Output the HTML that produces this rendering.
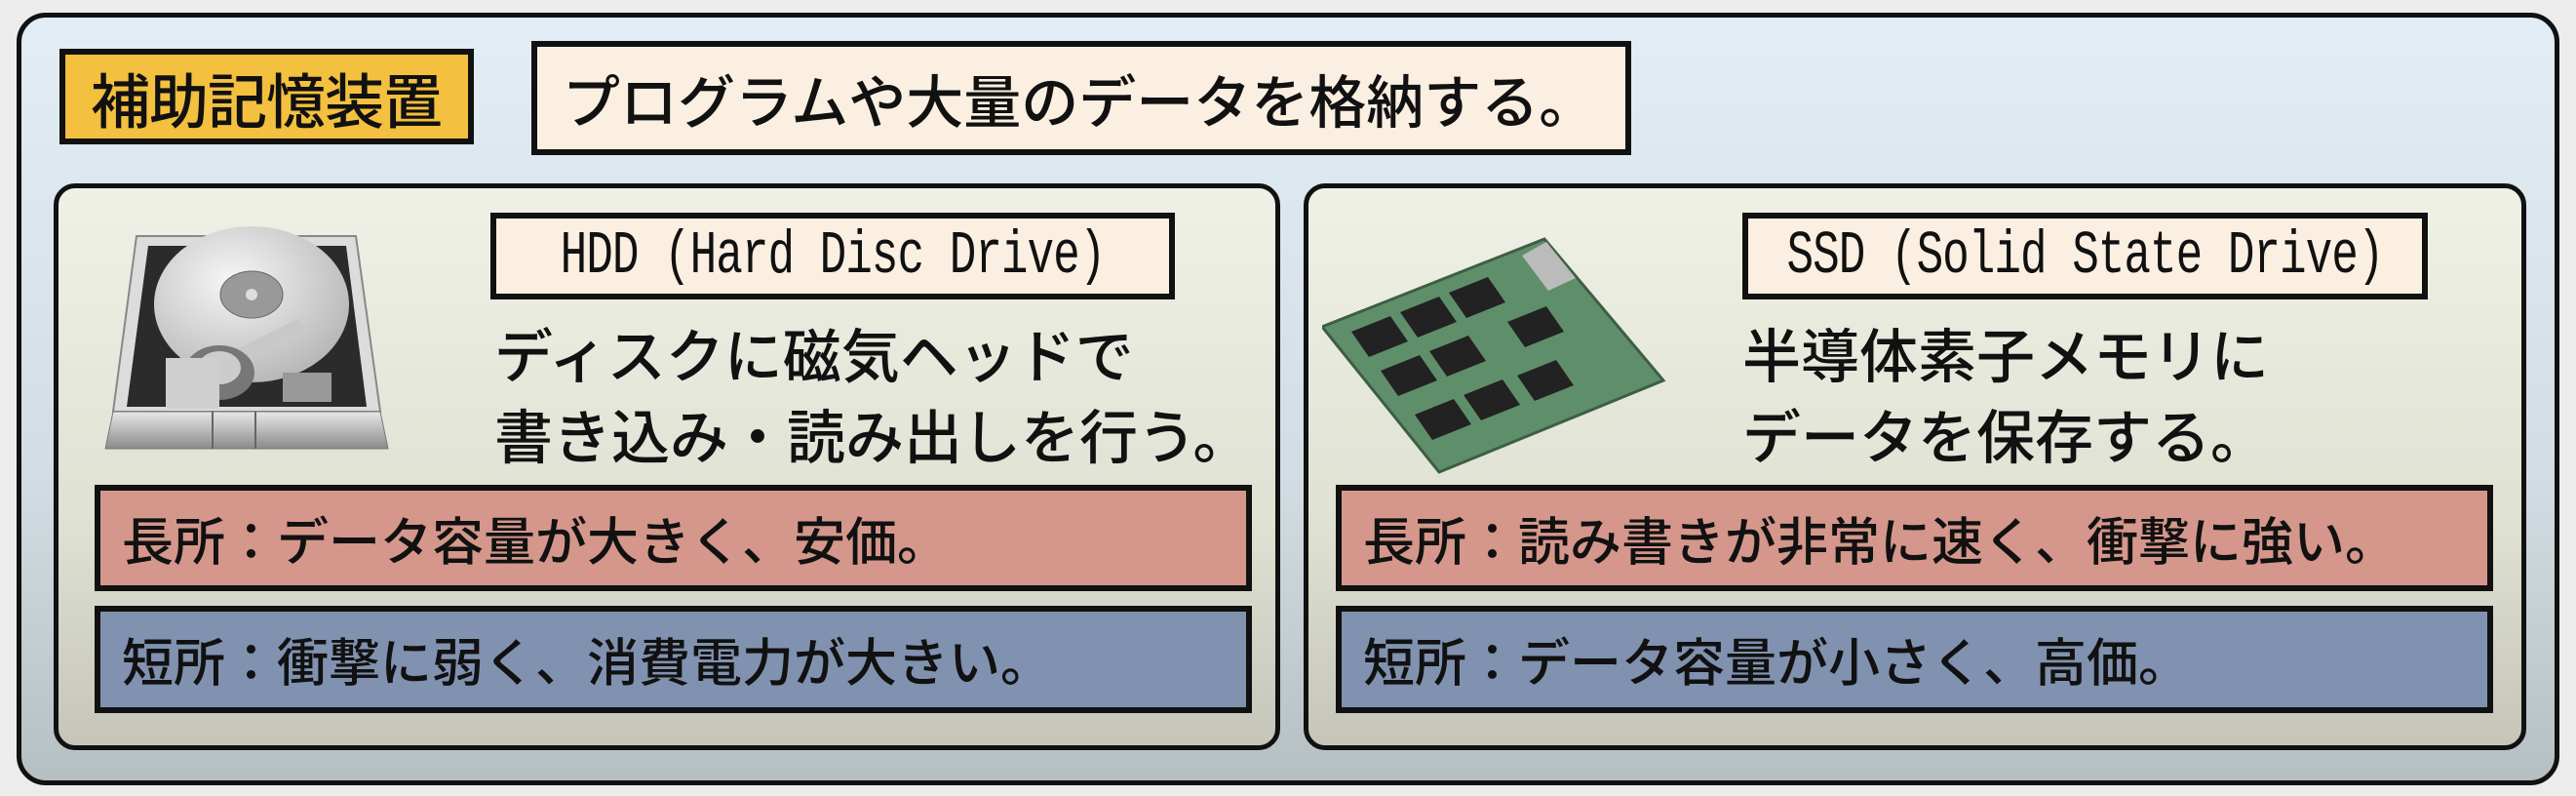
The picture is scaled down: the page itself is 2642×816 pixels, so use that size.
<!DOCTYPE html>
<html><head><meta charset="utf-8"><style>
*{box-sizing:border-box;margin:0;padding:0}
body{width:2642px;height:816px;background:#ececec;position:relative;overflow:hidden;font-family:"Liberation Sans","Noto Sans CJK JP",sans-serif;color:#111}
.a{position:absolute}
.box{position:absolute;border:6px solid #111;display:flex;align-items:center}
.t{white-space:nowrap}
</style></head><body>
<div class="a" style="left:17px;top:13px;width:2608px;height:792px;border:5px solid #111;border-radius:30px;background:linear-gradient(#e2edf5,#d2dde3 60%,#b6c0c3)"></div>

<div class="box" style="left:61px;top:50px;width:425px;height:98px;background:#f3c03f;border-width:6px;padding-left:26px">
<span class="t" style="font-size:61px;font-weight:500;letter-spacing:-1px">補助記憶装置</span></div>
<div class="box" style="left:545px;top:42px;width:1128px;height:117px;background:#fbefe2;padding-left:26px">
<span class="t" style="font-size:59px;font-weight:500">プログラムや大量のデータを格納する。</span></div>

<!-- HDD panel -->
<div class="a" style="left:55px;top:188px;width:1258px;height:581px;border:5px solid #111;border-radius:22px;background:linear-gradient(#eff1e6,#dfe1d3 60%,#c5c5b9)"></div>
<svg class="a" style="left:100px;top:232px" width="306" height="244" viewBox="0 0 306 244">
<defs><linearGradient id="hb" x1="0" y1="0" x2="0" y2="1"><stop offset="0" stop-color="#e8e8e8"/><stop offset="1" stop-color="#8a8a8a"/></linearGradient>
<radialGradient id="pl" cx="0.4" cy="0.35" r="0.7"><stop offset="0" stop-color="#f6f6f6"/><stop offset="1" stop-color="#b5b5b5"/></radialGradient></defs>
<polygon points="40,10 265,10 290,190 16,190" fill="#dcdcdc" stroke="#888" stroke-width="2"/>
<polygon points="52,20 255,20 276,185 30,185" fill="#2b2b2b"/>
<ellipse cx="158" cy="80" rx="100" ry="80" fill="url(#pl)"/>
<ellipse cx="158" cy="70" rx="32" ry="24" fill="#999" stroke="#666"/>
<circle cx="158" cy="70" r="6" fill="#ddd"/>
<path d="M95 150 L205 95 L214 104 L108 165 Z" fill="#c8c8c8"/>
<ellipse cx="125" cy="150" rx="36" ry="28" fill="#777"/>
<ellipse cx="125" cy="145" rx="22" ry="17" fill="#ccc"/>
<rect x="70" y="135" width="55" height="52" fill="#cfcfcf"/>
<rect x="190" y="150" width="50" height="30" fill="#999"/>
<polygon points="16,190 290,190 298,228 8,228" fill="url(#hb)" stroke="#777"/>
<line x1="118" y1="190" x2="118" y2="228" stroke="#666" stroke-width="2"/><line x1="162" y1="190" x2="162" y2="228" stroke="#666" stroke-width="2"/>
</svg>
<div class="box" style="left:503px;top:218px;width:702px;height:89px;background:#fbefe2;justify-content:center">
<span class="t" style="font-family:'Liberation Mono','Noto Sans CJK JP',monospace;font-size:46px;transform:scaleY(1.35);display:inline-block;letter-spacing:-1px">HDD (Hard Disc Drive)</span></div>
<div class="a t" style="left:507px;top:325px;font-size:60px;line-height:83px;font-weight:500">ディスクに磁気ヘッドで<br>書き込み・読み出しを行う。</div>
<div class="box" style="left:97px;top:497px;width:1187px;height:109px;background:#d5978b;padding-left:22px">
<span class="t" style="font-size:53px;font-weight:500">長所：データ容量が大きく、安価。</span></div>
<div class="box" style="left:97px;top:621px;width:1187px;height:110px;background:#8192b0;padding-left:22px">
<span class="t" style="font-size:53px;font-weight:500">短所：衝撃に弱く、消費電力が大きい。</span></div>

<!-- SSD panel -->
<div class="a" style="left:1337px;top:188px;width:1254px;height:581px;border:5px solid #111;border-radius:22px;background:linear-gradient(#eff1e6,#dfe1d3 60%,#c5c5b9)"></div>
<svg class="a" style="left:1356px;top:240px" width="354" height="246" viewBox="0 0 354 246">
<polygon points="0,95 228,5 350,150 120,244" fill="#5f8f6a" stroke="#3d5e45" stroke-width="3"/>
<polygon points="230,8 260,45 232,58 205,22" fill="#bbb"/>
<g fill="#222">
<polygon points="30,100 70,84 88,110 48,126"/><polygon points="80,80 120,64 138,90 98,106"/><polygon points="130,60 170,44 188,70 148,86"/>
<polygon points="60,140 100,124 118,150 78,166"/><polygon points="110,120 150,104 168,130 128,146"/><polygon points="190,90 230,74 248,100 208,116"/>
<polygon points="95,185 135,169 153,195 113,211"/><polygon points="145,165 185,149 203,175 163,191"/><polygon points="200,145 240,129 258,155 218,171"/>
</g>
</svg>
<div class="box" style="left:1787px;top:218px;width:703px;height:89px;background:#fbefe2;justify-content:center">
<span class="t" style="font-family:'Liberation Mono','Noto Sans CJK JP',monospace;font-size:46px;transform:scaleY(1.35);display:inline-block;letter-spacing:-1px">SSD (Solid State Drive)</span></div>
<div class="a t" style="left:1787px;top:325px;font-size:60px;line-height:83px;font-weight:500">半導体素子メモリに<br>データを保存する。</div>
<div class="box" style="left:1370px;top:497px;width:1187px;height:109px;background:#d5978b;padding-left:22px">
<span class="t" style="font-size:53px;font-weight:500">長所：読み書きが非常に速く、衝撃に強い。</span></div>
<div class="box" style="left:1370px;top:621px;width:1187px;height:110px;background:#8192b0;padding-left:22px">
<span class="t" style="font-size:53px;font-weight:500">短所：データ容量が小さく、高価。</span></div>
</body></html>
